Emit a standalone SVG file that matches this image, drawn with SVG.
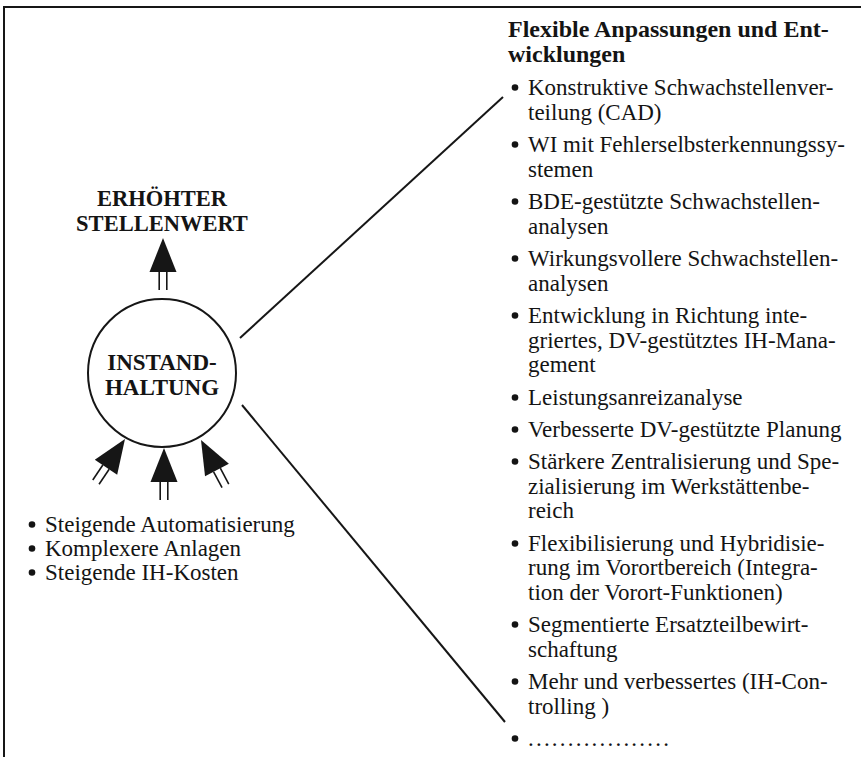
<svg xmlns="http://www.w3.org/2000/svg" width="861" height="757" viewBox="0 0 861 757">
<style>
text{font-family:"Liberation Serif","Times New Roman",serif;fill:#141414}
.t{font-size:23px}
.b{font-size:23px;font-weight:bold}
.b2{font-size:22.5px;font-weight:bold}
.h{font-size:24px;font-weight:bold}
.c{text-anchor:middle}
.bu{fill:#141414}
.ln{stroke:#161616;stroke-width:2;fill:none}
.sh{stroke:#161616;stroke-width:1.6}
</style>
<defs>
<g id="arr"><polygon points="0,0 -13.5,34 13.5,34" fill="#161616"/><line class="sh" x1="-3.8" y1="34" x2="-3.8" y2="52"/><line class="sh" x1="3.8" y1="34" x2="3.8" y2="52"/></g>
</defs>
<g id="frame"><polyline class="ln" points="4,757 4,7 861,7"/></g>
<g id="connectors">
<line class="ln" x1="240" y1="338" x2="503" y2="97"/>
<line class="ln" x1="242" y1="405" x2="505" y2="722"/>
<use href="#arr" transform="translate(163,238)"/>
<use href="#arr" transform="translate(164,448)"/>
<use href="#arr" transform="translate(125,439) rotate(34)"/>
<use href="#arr" transform="translate(201,440) rotate(-28)"/>
</g>
<g id="instandhaltung">
<circle class="ln" cx="162" cy="373" r="74" fill="#fff"/>
<text class="b c" x="162" y="370">INSTAND-</text>
<text class="b c" x="162" y="395">HALTUNG</text>
</g>
<g id="stellenwert">
<text class="b2 c" x="162" y="206">ERHÖHTER</text>
<text class="b2 c" x="162" y="231">STELLENWERT</text>
</g>
<g id="ursachen">
<circle class="bu" cx="32" cy="524.5" r="3.3"/><text class="t" x="45" y="532">Steigende Automatisierung</text>
<circle class="bu" cx="32" cy="548.5" r="3.3"/><text class="t" x="45" y="556">Komplexere Anlagen</text>
<circle class="bu" cx="32" cy="572.5" r="3.3"/><text class="t" x="45" y="580">Steigende IH-Kosten</text>
</g>
<g id="anpassungen">
<text class="h" x="508" y="37">Flexible Anpassungen und Ent-</text>
<text class="h" x="508" y="62">wicklungen</text>
<g class="bu">
<circle cx="515" cy="87.5" r="3.3"/>
<circle cx="515" cy="144.5" r="3.3"/>
<circle cx="515" cy="201.5" r="3.3"/>
<circle cx="515" cy="258.5" r="3.3"/>
<circle cx="515" cy="315.5" r="3.3"/>
<circle cx="515" cy="397.5" r="3.3"/>
<circle cx="515" cy="429.5" r="3.3"/>
<circle cx="515" cy="461.5" r="3.3"/>
<circle cx="515" cy="543.5" r="3.3"/>
<circle cx="515" cy="624.5" r="3.3"/>
<circle cx="515" cy="681.5" r="3.3"/>
<circle cx="515" cy="738.5" r="3.3"/>
</g>
<g class="t">
<text x="528" y="95">Konstruktive Schwachstellenver-</text>
<text x="528" y="120">teilung (CAD)</text>
<text x="528" y="152">WI mit Fehlerselbsterkennungssy-</text>
<text x="528" y="177">stemen</text>
<text x="528" y="209">BDE-gestützte Schwachstellen-</text>
<text x="528" y="234">analysen</text>
<text x="528" y="266">Wirkungsvollere Schwachstellen-</text>
<text x="528" y="291">analysen</text>
<text x="528" y="323">Entwicklung in Richtung inte-</text>
<text x="528" y="348">griertes, DV-gestütztes IH-Mana-</text>
<text x="528" y="372">gement</text>
<text x="528" y="405">Leistungsanreizanalyse</text>
<text x="528" y="437">Verbesserte DV-gestützte Planung</text>
<text x="528" y="469">Stärkere Zentralisierung und Spe-</text>
<text x="528" y="494">zialisierung im Werkstättenbe-</text>
<text x="528" y="518">reich</text>
<text x="528" y="551">Flexibilisierung und Hybridisie-</text>
<text x="528" y="575">rung im Vorortbereich (Integra-</text>
<text x="528" y="600">tion der Vorort-Funktionen)</text>
<text x="528" y="632">Segmentierte Ersatzteilbewirt-</text>
<text x="528" y="657">schaftung</text>
<text x="528" y="689">Mehr und verbessertes (IH-Con-</text>
<text x="528" y="714">trolling )</text>
<text x="528" y="746" letter-spacing="2.2">..................</text>
</g>
</g>
</svg>
